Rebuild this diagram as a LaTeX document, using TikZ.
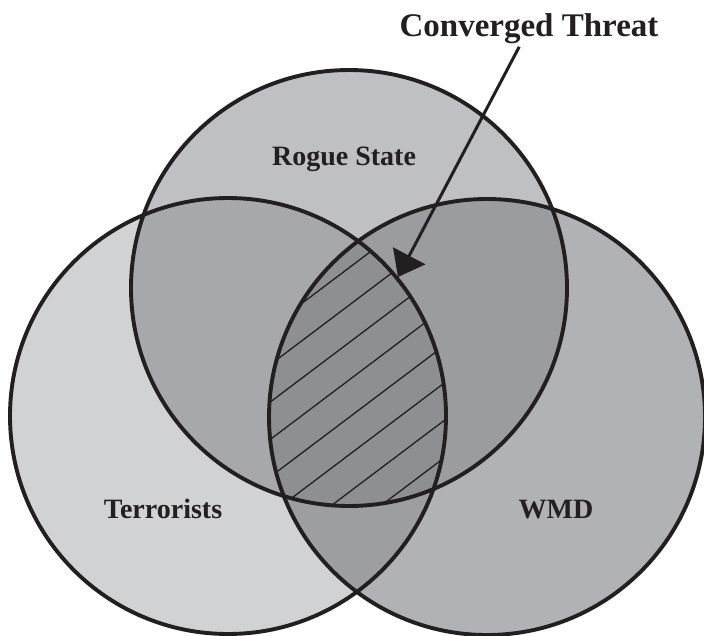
\documentclass[tikz,border=0pt]{standalone}
\usepackage{fontspec}
\setmainfont{Liberation Serif}
\usetikzlibrary{arrows.meta,positioning}

\definecolor{ink}{HTML}{231F20}
\definecolor{rogueonly}{HTML}{BFC0C4}
\definecolor{terroronly}{HTML}{D1D2D4}
\definecolor{wmdonly}{HTML}{B1B2B5}
\definecolor{rogueterror}{HTML}{A7A8AB}
\definecolor{roguewmd}{HTML}{9B9CA0}
\definecolor{terrorwmd}{HTML}{9D9EA1}
\definecolor{converged}{HTML}{8E8F93}

\begin{document}
\begin{tikzpicture}[x=1pt,y=-1pt,line join=round]
                \tikzstyle{set}=[draw=ink,line width=3.9pt]
                \tikzstyle{set-label}=[text=ink,anchor=base,font=\bfseries\fontsize{28}{30}\selectfont]
                \tikzstyle{hatch}=[draw=ink,line width=1.3pt]
                \tikzstyle{pointer}=[draw=ink,line width=3pt,-{Triangle[length=24pt,width=36pt]}]

                \fill[white] (0,0) rectangle (704,635);
                \useasboundingbox (0,0) rectangle (704,635);

                \coordinate (rogue)  at (349,288);
                \coordinate (terror) at (228,416);
                \coordinate (wmd)    at (487,417);

                \fill[rogueonly]  (rogue)  circle (218pt);
                \fill[terroronly] (terror) circle (218pt);
                \fill[wmdonly]    (wmd)    circle (218pt);
                \begin{scope}
                    \clip (rogue) circle (218pt);
                    \fill[rogueterror] (terror) circle (218pt);
                    \fill[roguewmd]    (wmd)    circle (218pt);
                \end{scope}
                \begin{scope}
                    \clip (terror) circle (218pt);
                    \fill[terrorwmd] (wmd) circle (218pt);
                    \clip (wmd) circle (218pt);
                    \fill[converged] (rogue) circle (218pt);
                    \clip (rogue) circle (218pt);
                    \foreach \c in {531,568.4,...,800}
                        \draw[hatch] (200,\c-150.8) -- (520,\c-392.1);
                \end{scope}

                \draw[set] (rogue)  circle (218pt);
                \draw[set] (terror) circle (218pt);
                \draw[set] (wmd)    circle (218pt);

                \node[set-label] (rogue-label)  at (344,165) {Rogue State};
                \node[set-label] (terror-label) at (163,518) {Terrorists};
                \node[set-label] (wmd-label)    at (556,518) {WMD};

                \node[set-label,font=\bfseries\fontsize{33}{36}\selectfont] (threat-label) at (529,36) {Converged Threat};
                \coordinate (threat) at (398,277);
                \draw[pointer] (threat-label) -- (threat);
\end{tikzpicture}
\end{document}
